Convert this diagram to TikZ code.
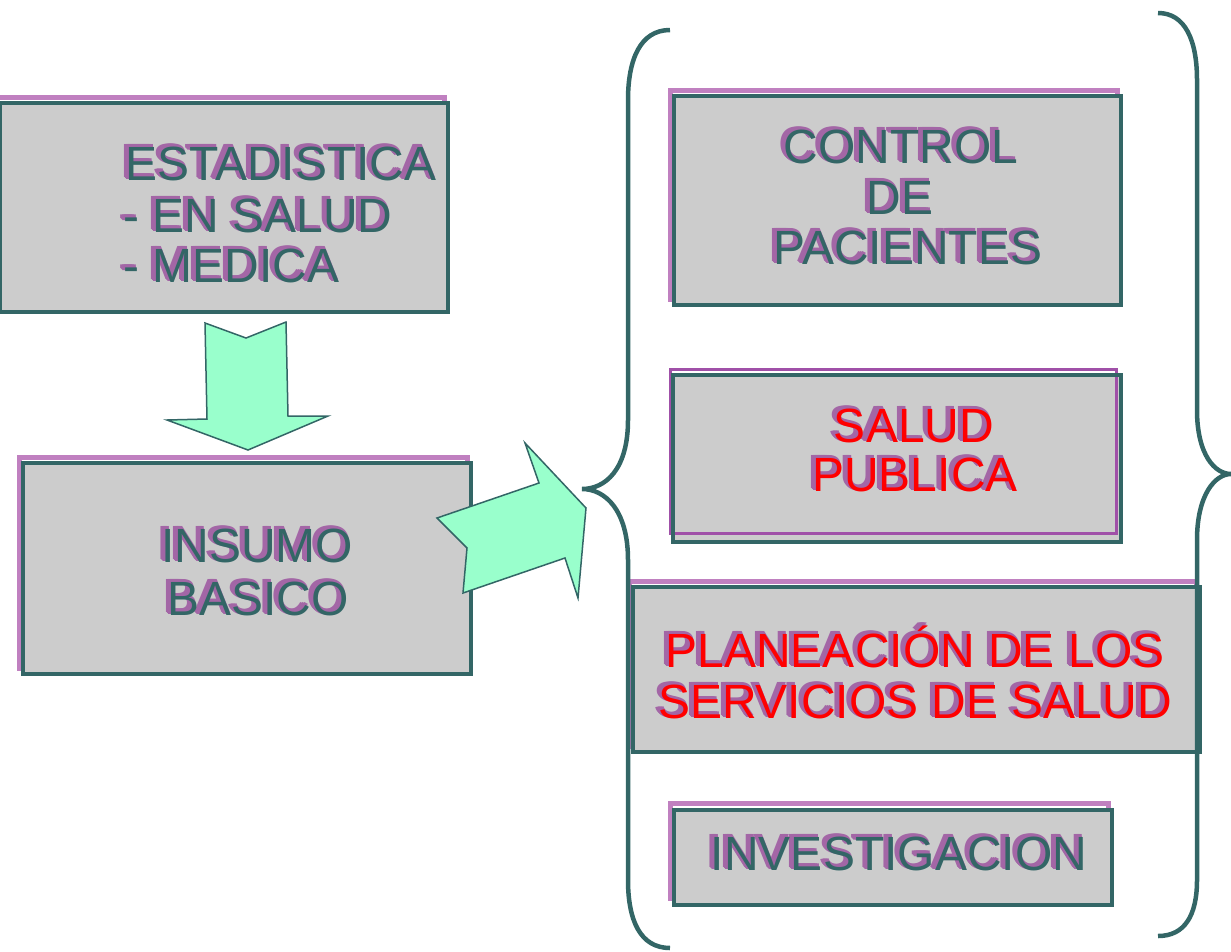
\documentclass[tikz,border=0pt]{standalone}
\usepackage{fontspec}
\setmainfont{Liberation Sans}
\definecolor{teal1}{HTML}{336666}
\definecolor{purp}{HTML}{C080C0}
\definecolor{purpd}{HTML}{A050A8}
\definecolor{purpt}{HTML}{A366A6}
\definecolor{grayf}{HTML}{CCCCCC}
\definecolor{mint}{HTML}{99FFCC}
\newcommand{\shline}[5]{%
 \foreach \dx/\dy/\k in {-1/-1/a,-3/-1/b,-2/-2/c,-4/-2/d,-1/-3/e,-3/-3/f,-5/-3/g}{%
  \node[shtxt, anchor=#3] (#1s\k) at ([shift={(\dx,\dy)}]#2) {#5};}
 \node[fgtxt, anchor=#3, text=#4] (#1) at (#2) {#5};}
\begin{document}
\begin{tikzpicture}[x=1pt,y=-1pt,
 box/.style={draw=teal1, line width=4pt, fill=grayf, rectangle, inner sep=0pt, outer sep=0pt, anchor=north west},
 shbox/.style={draw=purp, line width=5pt, rectangle, inner sep=0pt, outer sep=0pt, anchor=north west},
 shtxt/.style={font=\fontsize{48}{51}\selectfont, text=purpt, inner sep=0pt},
 fgtxt/.style={font=\fontsize{48}{51}\selectfont, inner sep=0pt},
 blockarrow/.style={draw=teal1, line width=1.5pt, fill=mint, line join=miter},
 brace/.style={draw=teal1, line width=4.5pt}]
\useasboundingbox (0,0) rectangle (1231,951);
% shadows of boxes
\node[shbox, minimum width=448, minimum height=209] (ests) at (-4,97) {};
\node[shbox, minimum width=448, minimum height=211] (inss) at (19,457) {};
\node[shbox, minimum width=447, minimum height=209] (ctls) at (670,90) {};
\node[shbox, minimum width=567, minimum height=165] (plas) at (629,581) {};
\node[shbox, minimum width=438, minimum height=95] (invs) at (670,803) {};
% boxes
\node[box, minimum width=448, minimum height=209] (est) at (0,103) {};
\node[box, minimum width=448, minimum height=211] (ins) at (23,463) {};
\node[box, minimum width=447, minimum height=209] (ctl) at (674,96) {};
\node[box, minimum width=448, minimum height=167] (sp) at (673,375) {};
\node[shbox, draw=purpd, line width=3pt, minimum width=446, minimum height=164] (sps) at (670,369) {};
\draw[teal1, line width=4pt] (sp.north west) rectangle (sp.south east);
\node[box, minimum width=567, minimum height=165] (pla) at (633,587) {};
\node[box, minimum width=438, minimum height=95] (inv) at (674,810) {};
% block arrows
\draw[blockarrow] (205,323) -- (246,338) -- (286,322) -- (288,416) -- (328,416) -- (248,450) -- (167,420) -- (207,419) -- cycle;
\draw[blockarrow] (437,518) -- (539,483) -- (525,443) -- (586,508) -- (578,598) -- (565,558) -- (463,593) -- (467,548) -- cycle;
% braces
\draw[brace] (670,30) .. controls (640,30) and (628,60) .. (628,100) -- (628,420) .. controls (628,470) and (605,489) .. (582,489) .. controls (605,489) and (628,510) .. (628,560) -- (628,880) .. controls (628,920) and (640,948) .. (670,948);
\draw[brace] (1158,13) .. controls (1185,13) and (1197,40) .. (1197,80) -- (1197,410) .. controls (1197,455) and (1215,474) .. (1231,474) .. controls (1215,474) and (1197,495) .. (1197,540) -- (1197,880) .. controls (1197,915) and (1185,936) .. (1158,936);
% texts
\shline{t1}{125,180}{base west}{teal1}{ESTADISTICA}
\shline{t2}{123,232}{base west}{teal1}{- EN SALUD}
\shline{t3}{123,282}{base west}{teal1}{- MEDICA}
\shline{t4}{257,562}{base}{teal1}{INSUMO}
\shline{t5}{258,615}{base}{teal1}{BASICO}
\shline{t6}{901,163}{base}{teal1}{CONTROL}
\shline{t7}{900,214}{base}{teal1}{DE}
\shline{t8}{908,264}{base}{teal1}{PACIENTES}
\shline{t9}{914,442}{base}{red}{SALUD}
\shline{t10}{915,491}{base}{red}{PUBLICA}
\shline{t11}{915,667}{base}{red}{PLANEACIÓN DE LOS}
\shline{t12}{915,718}{base}{red}{SERVICIOS DE SALUD}
\shline{t13}{899,870}{base}{teal1}{INVESTIGACION}
\end{tikzpicture}
\end{document}
